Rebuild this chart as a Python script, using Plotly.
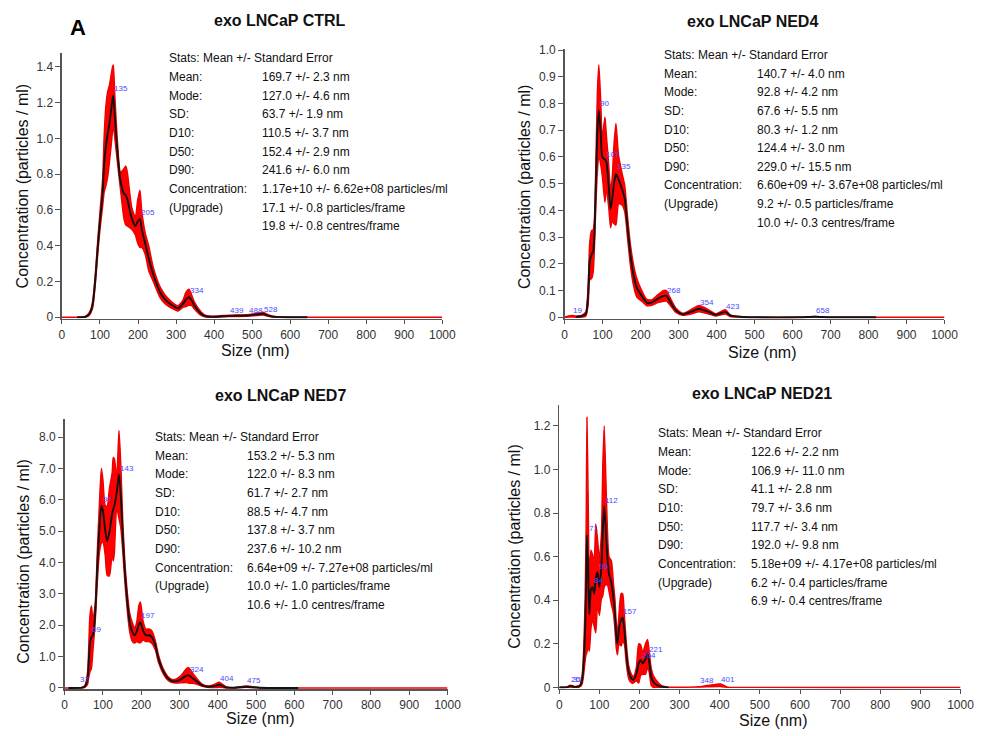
import plotly.graph_objects as go

# ---------------- DATA ----------------
ctrl_size = [0, 40, 60, 68, 75, 81, 88, 94, 100, 107, 111, 115, 120, 124, 129, 133, 135, 139, 146, 154, 163, 168, 172,
             178, 184, 193, 199, 205, 210, 219, 228, 240, 258, 271, 284, 297, 305, 318, 326, 334, 341, 348, 366, 378,
             400, 439, 488, 510, 528, 545, 560, 600, 645, 1000]
ctrl_mean = [0, 0, 0.002, 0.01, 0.03, 0.075, 0.22, 0.39, 0.54, 0.70, 0.86, 0.95, 1.02, 1.07, 1.15, 1.22, 1.24, 1.12,
             0.92, 0.76, 0.69, 0.68, 0.66, 0.60, 0.55, 0.51, 0.535, 0.55, 0.49, 0.41, 0.33, 0.24, 0.14, 0.10, 0.075,
             0.057, 0.05, 0.075, 0.10, 0.112, 0.095, 0.066, 0.02, 0.006, 0.003, 0.008, 0.01, 0.015, 0.02, 0.008, 0.002,
             0.0, 0.0, 0.0]
ctrl_se = [0, 0, 0.002, 0.005, 0.01, 0.02, 0.03, 0.04, 0.05, 0.08, 0.16, 0.22, 0.24, 0.22, 0.2, 0.18, 0.17, 0.12, 0.06,
           0.05, 0.14, 0.165, 0.15, 0.10, 0.06, 0.05, 0.12, 0.16, 0.10, 0.06, 0.07, 0.04, 0.03, 0.025, 0.02, 0.015,
           0.015, 0.02, 0.04, 0.045, 0.03, 0.02, 0.01, 0.005, 0.003, 0.004, 0.005, 0.006, 0.008, 0.004, 0.002, 0.001,
           0.001, 0]
ctrl_peaks = [135, 205, 334, 439, 488, 528]
ctrl_peak_y = [1.245, 0.553, 0.117, 0.006, 0.006, 0.012]

ned4_size = [0, 19, 30, 47, 56, 62, 66, 71, 75, 78, 82, 86, 90, 95, 99, 106, 110, 116, 121, 125, 130, 135, 142, 151,
             158, 166, 173, 181, 190, 203, 216, 229, 246, 261, 268, 276, 293, 311, 332, 354, 379, 397, 423, 436, 460,
             500, 620, 658, 700, 820, 1000]
ned4_mean = [0, 0.004, 0.002, 0.005, 0.013, 0.087, 0.21, 0.235, 0.247, 0.30, 0.49, 0.69, 0.775, 0.69, 0.60, 0.59, 0.58,
             0.49, 0.405, 0.44, 0.50, 0.535, 0.515, 0.48, 0.445, 0.33, 0.235, 0.16, 0.11, 0.08, 0.055, 0.055, 0.07,
             0.08, 0.08, 0.063, 0.026, 0.011, 0.02, 0.032, 0.02, 0.009, 0.02, 0.006, 0.002, 0.0, 0.0, 0.002, 0.0, 0.0,
             0.0]
ned4_se = [0, 0.003, 0.002, 0.004, 0.008, 0.04, 0.07, 0.09, 0.08, 0.06, 0.08, 0.15, 0.17, 0.12, 0.07, 0.16, 0.10, 0.08,
           0.07, 0.08, 0.15, 0.19, 0.09, 0.06, 0.05, 0.04, 0.04, 0.04, 0.035, 0.02, 0.012, 0.01, 0.015, 0.02, 0.02,
           0.015, 0.008, 0.004, 0.008, 0.012, 0.008, 0.004, 0.008, 0.003, 0.001, 0, 0, 0.001, 0, 0, 0]
ned4_peaks = [19, 90, 107, 135, 268, 354, 423, 658]
ned4_peak_y = [0.005, 0.78, 0.59, 0.543, 0.079, 0.033, 0.021, 0.006]

ned7_size = [0, 10, 45, 53, 60, 63, 66, 70, 74, 80, 85, 91, 96, 100, 106, 111, 117, 124, 127, 130, 136, 142, 147, 152,
             157, 164, 170, 177, 183, 188, 194, 198, 205, 212, 220, 228, 237, 245, 258, 271, 284, 301, 318, 324, 340,
             357, 374, 391, 404, 421, 440, 475, 510, 610, 1000]
ned7_mean = [0, 0, 0.01, 0.05, 0.31, 0.84, 1.40, 1.62, 1.68, 2.41, 3.77, 5.13, 5.81, 5.65, 5.03, 4.69, 4.97, 5.55, 5.7,
             5.81, 6.23, 6.81, 6.07, 4.82, 3.77, 2.72, 2.09, 1.78, 1.68, 1.78, 2.04, 2.09, 1.83, 1.68, 1.68, 1.62,
             1.36, 0.94, 0.52, 0.29, 0.21, 0.26, 0.39, 0.40, 0.26, 0.10, 0.04, 0.06, 0.10, 0.02, 0.005, 0.04, 0.005,
             0.0, 0.0]
ned7_se = [0, 0, 0.01, 0.03, 0.2, 0.5, 0.9, 1.0, 0.5, 0.3, 0.5, 0.8, 1.2, 1.0, 0.8, 1.1, 1.4, 1.3, 1.65, 1.5, 0.5,
           1.4, 1.0, 0.5, 0.35, 0.3, 0.3, 0.3, 0.25, 0.3, 0.6, 0.65, 0.3, 0.2, 0.2, 0.2, 0.15, 0.12, 0.08, 0.06,
           0.05, 0.1, 0.22, 0.25, 0.12, 0.04, 0.02, 0.05, 0.08, 0.02, 0.005, 0.02, 0.005, 0.001, 0]
ned7_peaks = [37, 69, 97, 143, 197, 324, 404, 475]
ned7_peak_y = [0.08, 1.68, 5.84, 6.84, 2.13, 0.40, 0.14, 0.06]

ned21_size = [0, 20, 26, 31, 38, 51, 57, 61, 64.5, 67, 69, 72, 75, 79, 83, 87, 91, 95.5, 100, 105, 108.5, 112, 116,
              120, 124, 130, 135, 139, 142, 145, 149, 154, 158, 162, 167, 173, 180, 185, 192, 198, 203, 208, 215, 220,
              224, 229, 234, 242, 255, 272, 348, 401, 420, 435, 1000]
ned21_mean = [0, 0.001, 0.005, 0.005, 0.002, 0.006, 0.035, 0.12, 0.27, 0.45, 0.70, 0.54, 0.335, 0.45, 0.46, 0.43, 0.50,
              0.53, 0.46, 0.555, 0.72, 0.83, 0.72, 0.60, 0.52, 0.48, 0.41, 0.33, 0.24, 0.20, 0.27, 0.31, 0.32, 0.27,
              0.16, 0.07, 0.04, 0.035, 0.06, 0.11, 0.125, 0.11, 0.13, 0.155, 0.12, 0.05, 0.027, 0.012, 0.003, 0.0,
              0.002, 0.01, 0.0, 0.0, 0.0]
ned21_se = [0, 0.001, 0.004, 0.004, 0.002, 0.004, 0.02, 0.06, 0.15, 0.3, 0.54, 0.35, 0.17, 0.18, 0.15, 0.15, 0.25, 0.15,
            0.13, 0.15, 0.3, 0.37, 0.25, 0.13, 0.08, 0.1, 0.07, 0.07, 0.06, 0.05, 0.07, 0.12, 0.11, 0.07, 0.05, 0.03,
            0.02, 0.015, 0.03, 0.09, 0.07, 0.05, 0.07, 0.065, 0.05, 0.04, 0.03, 0.02, 0.005, 0.001, 0.001, 0.006,
            0.001, 0, 0]
ned21_peaks = [26, 31, 71, 84, 96, 112, 157, 204, 221, 348, 401]
ned21_peak_y = [0.012, 0.012, 0.705, 0.464, 0.529, 0.833, 0.325, 0.12, 0.15, 0.006, 0.012]

titles = ["exo LNCaP CTRL", "exo LNCaP NED4", "exo LNCaP NED7", "exo LNCaP NED21"]
stat_labels = ["Stats: Mean +/- Standard Error", "Mean:", "Mode:", "SD:", "D10:", "D50:", "D90:",
               "Concentration:", "(Upgrade)", ""]
ctrl_stats = ["", "169.7 +/- 2.3 nm", "127.0 +/- 4.6 nm", "63.7 +/- 1.9 nm", "110.5 +/- 3.7 nm", "152.4 +/- 2.9 nm",
              "241.6 +/- 6.0 nm", "1.17e+10 +/- 6.62e+08 particles/ml", "17.1 +/- 0.8 particles/frame",
              "19.8 +/- 0.8 centres/frame"]
ned4_stats = ["", "140.7 +/- 4.0 nm", "92.8 +/- 4.2 nm", "67.6 +/- 5.5 nm", "80.3 +/- 1.2 nm", "124.4 +/- 3.0 nm",
              "229.0 +/- 15.5 nm", "6.60e+09 +/- 3.67e+08 particles/ml", "9.2 +/- 0.5 particles/frame",
              "10.0 +/- 0.3 centres/frame"]
ned7_stats = ["", "153.2 +/- 5.3 nm", "122.0 +/- 8.3 nm", "61.7 +/- 2.7 nm", "88.5 +/- 4.7 nm", "137.8 +/- 3.7 nm",
              "237.6 +/- 10.2 nm", "6.64e+09 +/- 7.27e+08 particles/ml", "10.0 +/- 1.0 particles/frame",
              "10.6 +/- 1.0 centres/frame"]
ned21_stats = ["", "122.6 +/- 2.2 nm", "106.9 +/- 11.0 nm", "41.1 +/- 2.8 nm", "79.7 +/- 3.6 nm", "117.7 +/- 3.4 nm",
               "192.0 +/- 9.8 nm", "5.18e+09 +/- 4.17e+08 particles/ml", "6.2 +/- 0.4 particles/frame",
               "6.9 +/- 0.4 centres/frame"]

x_ticks = [0, 100, 200, 300, 400, 500, 600, 700, 800, 900, 1000]
ctrl_yticks = [0, 0.2, 0.4, 0.6, 0.8, 1.0, 1.2, 1.4]
ctrl_ytext = ["0", "0.2", "0.4", "0.6", "0.8", "1.0", "1.2", "1.4"]
ned4_yticks = [0, 0.1, 0.2, 0.3, 0.4, 0.5, 0.6, 0.7, 0.8, 0.9, 1.0]
ned4_ytext = ["0", "0.1", "0.2", "0.3", "0.4", "0.5", "0.6", "0.7", "0.8", "0.9", "1.0"]
ned7_yticks = [0, 1, 2, 3, 4, 5, 6, 7, 8]
ned7_ytext = ["0", "1.0", "2.0", "3.0", "4.0", "5.0", "6.0", "7.0", "8.0"]
ned21_yticks = [0, 0.2, 0.4, 0.6, 0.8, 1.0, 1.2]
ned21_ytext = ["0", "0.2", "0.4", "0.6", "0.8", "1.0", "1.2"]

# ---------------- LAYOUT (pixel geometry) ----------------
W, H = 987, 736
FONT = "Arial, Liberation Sans, sans-serif"

panels = [
    dict(size=ctrl_size, mean=ctrl_mean, se=ctrl_se, peaks=ctrl_peaks, peak_y=ctrl_peak_y, stats=ctrl_stats,
         yticks=ctrl_yticks, ytext=ctrl_ytext, line_rng=(40, 645),
         x0=60, x1=447, y0=317, ref=(1.4, 62.7), top=48.3,
         title=(282, 16), ytitle=(19.5, 184), xtitle=(256, 351), stat_x=(166.7, 261.7), stat_y=54.3),
    dict(size=ned4_size, mean=ned4_mean, se=ned4_se, peaks=ned4_peaks, peak_y=ned4_peak_y, stats=ned4_stats,
         yticks=ned4_yticks, ytext=ned4_ytext, line_rng=(20, 820),
         x0=571.5, x1=958, y0=317, ref=(1.0, 45.7), top=44.3,
         title=(763, 16.7), ytitle=(530, 184), xtitle=(772, 353), stat_x=(670.7, 765.3), stat_y=50.7),
    dict(size=ned7_size, mean=ned7_mean, se=ned7_se, peaks=ned7_peaks, peak_y=ned7_peak_y, stats=ned7_stats,
         yticks=ned7_yticks, ytext=ned7_ytext, line_rng=(10, 610),
         x0=62.7, x1=452.3, y0=693.3, ref=(8.0, 438.7), top=420,
         title=(282.2, 396), ytitle=(20.5, 565), xtitle=(262, 724.5), stat_x=(152.7, 246.7), stat_y=438.7),
    dict(size=ned21_size, mean=ned21_mean, se=ned21_se, peaks=ned21_peaks, peak_y=ned21_peak_y, stats=ned21_stats,
         yticks=ned21_yticks, ytext=ned21_ytext, line_rng=(0, 272),
         x0=566, x1=974.3, y0=692.7, ref=(1.2, 427.3), top=406,
         title=(772.7, 394.7), ytitle=(521, 550), xtitle=(783, 726.5), stat_x=(664.7, 759.3), stat_y=435),
]


def px(x):
    return x / W


def py(y):
    return 1 - y / H


fig = go.Figure()
annotations = []
layout_axes = {}
PAD = 1.5
LINE_SP = 18.93

for i, p in enumerate(panels):
    n = i + 1
    xa = "x" if n == 1 else f"x{n}"
    ya = "y" if n == 1 else f"y{n}"
    scale = (p["y0"] - p["ref"][1]) / p["ref"][0]  # px per unit
    ymin = -PAD / scale
    ymax = (p["y0"] - p["top"]) / scale

    xs = p["size"]
    upper = [m + s for m, s in zip(p["mean"], p["se"])]
    lower = [max(m - s, 0.0) for m, s in zip(p["mean"], p["se"])]
    fig.add_trace(go.Scatter(
        x=xs + xs[::-1], y=upper + lower[::-1], fill="toself", fillcolor="#ff0000",
        line=dict(color="#ee0000", width=1.4, shape="spline", smoothing=0.6),
        mode="lines", xaxis=xa, yaxis=ya, hoverinfo="skip", showlegend=False))
    lo, hi = p["line_rng"]
    mx = [x for x in xs if lo <= x <= hi]
    my = [m for x, m in zip(xs, p["mean"]) if lo <= x <= hi]
    fig.add_trace(go.Scatter(
        x=mx, y=my, mode="lines", line=dict(color="#111111", width=1.9, shape="spline", smoothing=0.6),
        xaxis=xa, yaxis=ya, hoverinfo="skip", showlegend=False))

    axis_common = dict(showline=True, linecolor="#555555", linewidth=1.5, ticks="outside", tickcolor="#555555",
                       showgrid=False, zeroline=False, tickfont=dict(family=FONT, size=12, color="#333333"))
    layout_axes["xaxis" if n == 1 else f"xaxis{n}"] = dict(
        domain=[px(p["x0"]), px(p["x1"])], range=[0, 1000], anchor=ya, tickvals=x_ticks,
        ticktext=[str(t) for t in x_ticks], ticklen=4, **axis_common)
    layout_axes["yaxis" if n == 1 else f"yaxis{n}"] = dict(
        domain=[py(p["y0"] + PAD), py(p["top"])], range=[ymin, ymax], anchor=xa, tickvals=p["yticks"],
        ticktext=p["ytext"], ticklen=5, **axis_common)

    # peak labels
    for pk, pkv in zip(p["peaks"], p["peak_y"]):
        annotations.append(dict(x=pk, y=pkv, xref=xa, yref=ya, text=str(pk), showarrow=False, xanchor="left",
                                yanchor="bottom", borderpad=0, font=dict(family=FONT, size=8, color="#4a4aff")))

    # title
    annotations.append(dict(x=px(p["title"][0]), y=py(p["title"][1]), xref="paper", yref="paper",
                            text=f"<b>{titles[i]}</b>", showarrow=False, xanchor="center", yanchor="middle",
                            font=dict(family=FONT, size=16, color="#111111")))
    # axis titles
    annotations.append(dict(x=px(p["xtitle"][0]), y=py(p["xtitle"][1]), xref="paper", yref="paper",
                            text="Size (nm)", showarrow=False, xanchor="center", yanchor="middle", borderpad=0,
                            font=dict(family=FONT, size=16, color="#111111")))
    annotations.append(dict(x=px(p["ytitle"][0]), y=py(p["ytitle"][1]), xref="paper", yref="paper",
                            text="Concentration (particles / ml)", textangle=-90, showarrow=False,
                            xanchor="center", yanchor="middle", font=dict(family=FONT, size=16, color="#111111")))
    # stats block
    for k, (lab, val) in enumerate(zip(stat_labels, p["stats"])):
        yy = py(p["stat_y"] + k * LINE_SP)
        if lab:
            annotations.append(dict(x=px(p["stat_x"][0]), y=yy, xref="paper", yref="paper", text=lab,
                                    showarrow=False, xanchor="left", yanchor="middle",
                                    font=dict(family=FONT, size=12, color="#111111")))
        if val:
            annotations.append(dict(x=px(p["stat_x"][1]), y=yy, xref="paper", yref="paper", text=val,
                                    showarrow=False, xanchor="left", yanchor="middle",
                                    font=dict(family=FONT, size=12, color="#111111")))

annotations.append(dict(x=px(76), y=py(22.7), xref="paper", yref="paper", text="<b>A</b>", showarrow=False,
                        xanchor="center", yanchor="middle", font=dict(family=FONT, size=22, color="#000000")))

fig.update_layout(width=W, height=H, margin=dict(l=0, r=0, t=0, b=0), paper_bgcolor="white",
                  plot_bgcolor="white", annotations=annotations, showlegend=False, **layout_axes)

fig.write_html("out.html", config={"displayModeBar": False, "staticPlot": True},
               post_script="document.body.style.margin='0';document.body.style.padding='0';"
                           "document.documentElement.style.overflow='hidden';")
